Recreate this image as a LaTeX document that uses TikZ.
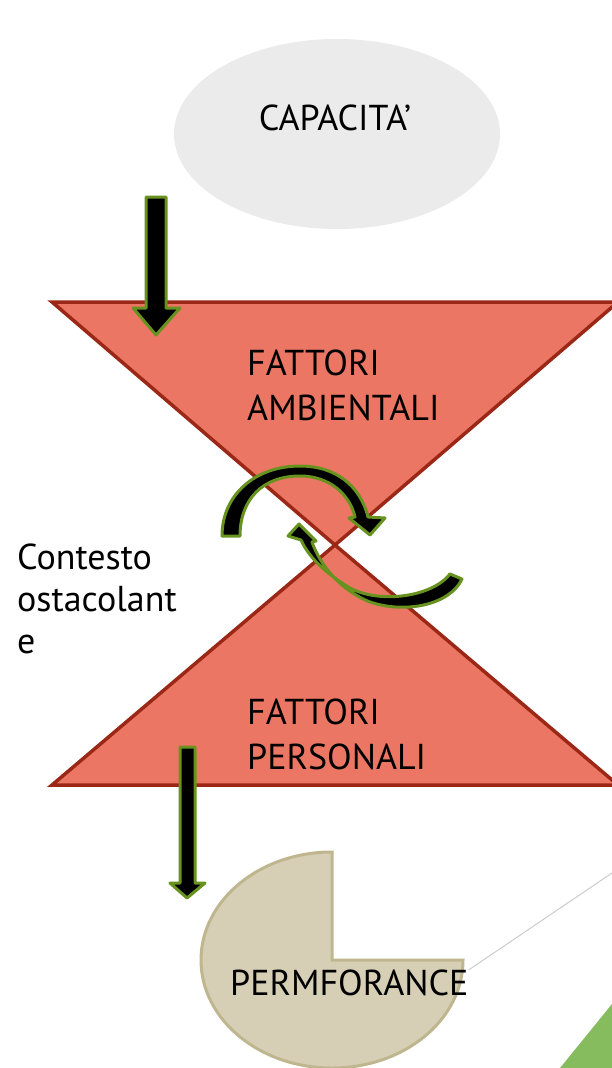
\documentclass[tikz,border=0pt]{standalone}
\usepackage{fontspec}
\setmainfont{PT Sans}
\usepackage{tikz}
\usetikzlibrary{positioning}
\definecolor{funnelfill}{HTML}{EC7664}
\definecolor{funneledge}{HTML}{9B2816}
\definecolor{bubblegray}{HTML}{EBEBEB}
\definecolor{arrowgreen}{HTML}{67921F}
\definecolor{pacfill}{HTML}{D6CFB5}
\definecolor{pacedge}{HTML}{BFB68F}
\definecolor{cornergreen}{HTML}{86BC5E}
\tikzstyle{bigtext} = [
  font=\fontsize{36}{45}\selectfont, align=left,
  inner sep=0pt, anchor=north west
]
\tikzstyle{funnel} = [fill=funnelfill, draw=funneledge, line width=3.5pt]
\tikzstyle{blockarrow} = [fill=black, draw=arrowgreen, line width=3pt, line join=round]
\tikzstyle{pacman} = [fill=pacfill, draw=pacedge, line width=3pt]
\tikzstyle{faintline} = [draw=black!20, line width=1pt]

\begin{document}
\begin{tikzpicture}[x=1pt, y=-1pt]

  \useasboundingbox (0,0) rectangle (612,1068);
  \clip (0,0) rectangle (612,1068);
  \fill[white] (0,0) rectangle (612,1068);

  % capacita bubble
  \fill[bubblegray] (337,134) ellipse [x radius=163, y radius=95];
  \node[bigtext, anchor=north] (capacita) at (335,105) {CAPACITA’};

  % the two funnels
  \filldraw[funnel] (52,302) -- (618,302) -- (335,545) -- cycle;
  \filldraw[funnel] (52,785) -- (618,785) -- (335,545) -- cycle;

  \node[bigtext] (ambientali) at (247,350) {FATTORI\\AMBIENTALI};
  \node[bigtext] (personali) at (247,699) {FATTORI\\PERSONALI};
  \node[bigtext, font=\fontsize{36}{42}\selectfont] (contesto) at (17,544) {Contesto\\ostacolant\\e};

  % performance
  \filldraw[pacman] (332,960) -- (463,960)
    arc[start angle=0, end angle=270, x radius=131, y radius=108] -- cycle;
  \node[bigtext] (performance) at (230,970) {PERMFORANCE};

  \coordinate (offpage) at (612,873);
  \draw[faintline] (performance.north east) -- (offpage);
  \fill[cornergreen] (560,1068) -- (612,1004) -- (612,1068) -- cycle;

  % straight arrows
  \filldraw[blockarrow] (146,197) -- (166,197) -- (166,308) -- (180,308)
    -- (156,335) -- (133,308) -- (146,308) -- cycle;
  \filldraw[blockarrow] (180,747) -- (195,747) -- (195,883) -- (205,883)
    -- (187,898) -- (170,883) -- (180,883) -- cycle;

  % circular arrows
  \filldraw[blockarrow] (222,536) -- (240,536)
    .. controls (240,500) and (262,476) .. (300,476)
    .. controls (330,476) and (350,495) .. (355,517)
    -- (349,518) -- (370,535) -- (385,518) -- (368,517)
    .. controls (360,485) and (335,466) .. (300,466)
    .. controls (255,466) and (222,495) .. (222,536) -- cycle;
  \filldraw[blockarrow] (462,579) -- (450,574)
    .. controls (432,597) and (380,604) .. (350,588)
    .. controls (330,576) and (310,560) .. (301,540)
    -- (288,536) -- (299,524) -- (316,541) -- (312,542)
    .. controls (320,565) and (340,590) .. (370,602)
    .. controls (405,614) and (450,605) .. (462,579) -- cycle;

\end{tikzpicture}
\end{document}
